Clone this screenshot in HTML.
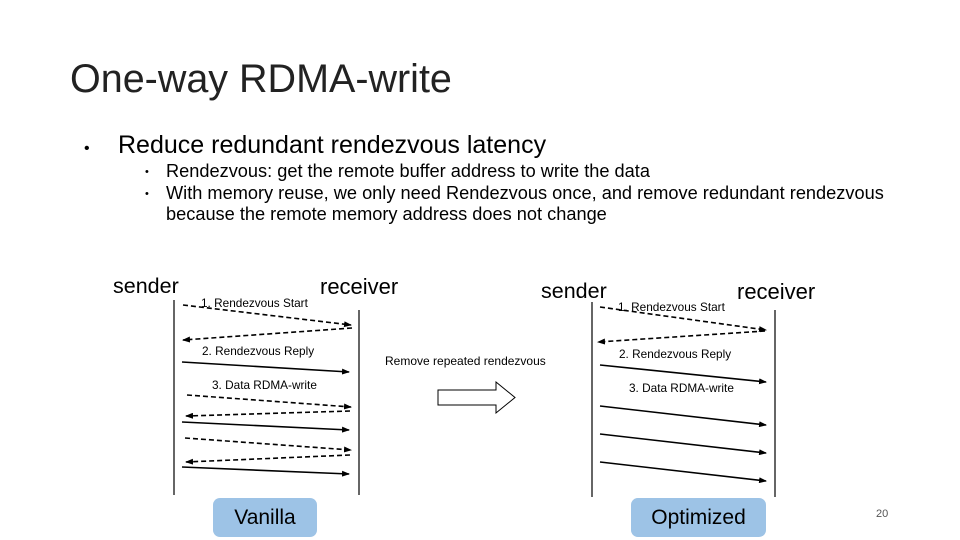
<!DOCTYPE html><html><head><meta charset="utf-8"><style>
body{margin:0;width:960px;height:540px;background:#fff;position:relative;overflow:hidden;font-family:"Liberation Sans",sans-serif;color:#000}
.t{position:absolute;white-space:nowrap}
.box{position:absolute;background:#9dc3e6;border-radius:7px;font-size:21px;text-align:center;line-height:39px}
</style></head><body>
<div class="t" style="left:70px;top:57px;font-size:39.5px;color:#222">One-way RDMA-write</div>
<div class="t" style="left:84px;top:140px;font-size:16px">•</div>
<div class="t" style="left:118px;top:131px;font-size:25px">Reduce redundant rendezvous latency</div>
<div class="t" style="left:145px;top:166px;font-size:11px">•</div>
<div class="t" style="left:145px;top:188px;font-size:11px">•</div>
<div class="t" style="left:166px;top:161px;font-size:18.2px;line-height:21.5px">Rendezvous: get the remote buffer address to write the data<br>With memory reuse, we only need Rendezvous once, and remove redundant rendezvous<br>because the remote memory address does not change</div>
<div class="t" style="left:113px;top:274px;font-size:21.5px">sender</div>
<div class="t" style="left:320px;top:274px;font-size:22px">receiver</div>
<div class="t" style="left:541px;top:279px;font-size:21.5px">sender</div>
<div class="t" style="left:737px;top:279px;font-size:22px">receiver</div>
<div class="t" style="left:201px;top:296px;font-size:11.8px">1. Rendezvous Start</div>
<div class="t" style="left:202px;top:344px;font-size:11.8px">2. Rendezvous Reply</div>
<div class="t" style="left:212px;top:378px;font-size:11.8px">3. Data RDMA-write</div>
<div class="t" style="left:618px;top:300px;font-size:11.8px">1. Rendezvous Start</div>
<div class="t" style="left:619px;top:347px;font-size:11.8px">2. Rendezvous Reply</div>
<div class="t" style="left:629px;top:381px;font-size:11.8px">3. Data RDMA-write</div>
<div class="t" style="left:385px;top:354px;font-size:12px">Remove repeated rendezvous</div>
<svg width="960" height="540" style="position:absolute;left:0;top:0">
<defs><marker id="a" markerWidth="8" markerHeight="6" refX="7" refY="3" orient="auto" markerUnits="userSpaceOnUse"><path d="M0,0L8,3L0,6z"/></marker></defs>
<g stroke="#000" stroke-width="1.2">
<line x1="174" y1="300" x2="174" y2="495"/><line x1="359" y1="310" x2="359" y2="495"/>
<line x1="592" y1="302" x2="592" y2="497"/><line x1="775" y1="310" x2="775" y2="497"/>
</g>
<g stroke="#000" stroke-width="1.6" fill="none">
<g stroke-dasharray="5,3">
<line x1="183" y1="305" x2="351" y2="325" marker-end="url(#a)"/>
<line x1="352" y1="328" x2="183" y2="340" marker-end="url(#a)"/>
<line x1="187" y1="395" x2="351" y2="407" marker-end="url(#a)"/>
<line x1="350" y1="411" x2="186" y2="416" marker-end="url(#a)"/>
<line x1="185" y1="438" x2="351" y2="450" marker-end="url(#a)"/>
<line x1="350" y1="455" x2="186" y2="462" marker-end="url(#a)"/>
<line x1="600" y1="307" x2="766" y2="330" marker-end="url(#a)"/>
<line x1="765" y1="331" x2="598" y2="342" marker-end="url(#a)"/>
</g>
<line x1="182" y1="362" x2="349" y2="372" marker-end="url(#a)"/>
<line x1="182" y1="422" x2="349" y2="430" marker-end="url(#a)"/>
<line x1="182" y1="467" x2="349" y2="474" marker-end="url(#a)"/>
<line x1="600" y1="365" x2="766" y2="382" marker-end="url(#a)"/>
<line x1="600" y1="406" x2="766" y2="425" marker-end="url(#a)"/>
<line x1="600" y1="434" x2="766" y2="453" marker-end="url(#a)"/>
<line x1="600" y1="462" x2="766" y2="481" marker-end="url(#a)"/>
</g>
<path d="M438,390H496V382L515,397.5L496,413V405H438Z" fill="#fff" stroke="#000" stroke-width="1"/>
</svg>
<div class="box" style="left:213px;top:498px;width:104px;height:39px">Vanilla</div>
<div class="box" style="left:631px;top:498px;width:135px;height:39px">Optimized</div>
<div class="t" style="left:876px;top:508px;font-size:11px;color:#555">20</div>
</body></html>
